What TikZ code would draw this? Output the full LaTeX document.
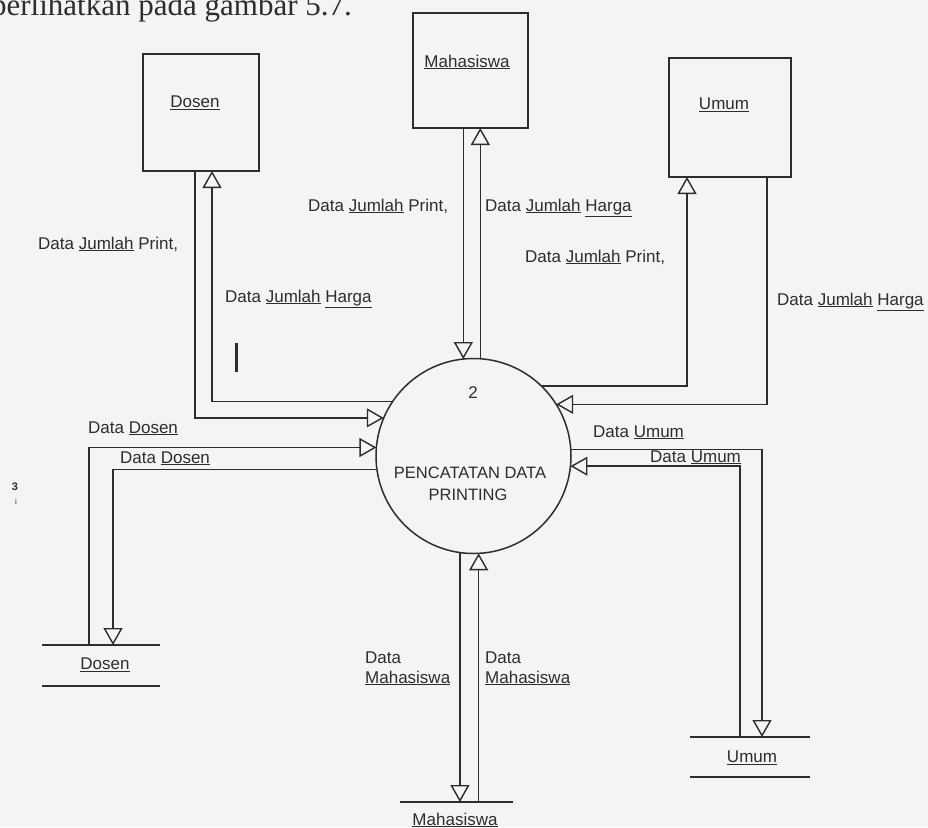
\documentclass[tikz,border=0pt]{standalone}
\usepackage{fontspec}
\setmainfont{Liberation Serif}
\newfontfamily\arial{Liberation Sans}
\usetikzlibrary{arrows.meta}
\definecolor{bg}{RGB}{242,244,245}
\definecolor{ink}{RGB}{45,45,45}
\tikzset{
  ent/.style={draw=ink, line width=1.6pt, inner sep=0pt, outer sep=0pt},
  procstyle/.style={circle, draw=ink, line width=1.5pt, minimum size=195pt, inner sep=0pt, outer sep=0pt},
  flow/.style={draw=ink, line width=1.4pt},
  tip/.style={-{Triangle[open, length=17pt, width=19pt, line width=1.4pt]}},
  lbl/.style={font=\arial\fontsize{17}{20}\selectfont, text=ink, inner sep=0pt},
  storeline/.style={draw=ink, line width=1.6pt},
}
\begin{document}
\begin{tikzpicture}[x=1pt,y=-1pt]
\fill[bg] (0,0) rectangle (928,827);
\useasboundingbox (0,0) rectangle (928,827);

% top text (cut off, as in the scan)
\node[anchor=base east, inner sep=0pt, font=\fontsize{31}{36}\selectfont, text=ink] (toptext) at (352,15) {diperlihatkan pada gambar 5.7.};

% external entities
\node[ent, minimum width=116pt, minimum height=117pt] (dosenE) at (201,112.5) {};
\node[lbl] (dosenEl) at (195,103) {\underline{Dosen}};
\node[ent, minimum width=115pt, minimum height=115pt] (mahaE) at (470.5,70.5) {};
\node[lbl] (mahaEl) at (467,62) {\underline{Mahasiswa}};
\node[ent, minimum width=122pt, minimum height=119pt] (umumE) at (730,117.5) {};
\node[lbl] (umumEl) at (724,105) {\underline{Umum}};

% process
\node[procstyle] (proc) at (473.5,456) {};
\node[lbl] (pnum) at (473,393) {2};
\node[lbl, font=\arial\fontsize{16.5}{20}\selectfont] (pname1) at (470,473) {PENCATATAN DATA};
\node[lbl, font=\arial\fontsize{16.5}{20}\selectfont] (pname2) at (468,495) {PRINTING};

% data stores
\coordinate (dosenTop) at (101,645);
\draw[storeline] (42,645) -- (160,645);
\draw[storeline] (42,686) -- (160,686);
\node[lbl] (dosenS) at (105,665) {\underline{Dosen}};

\coordinate (umumTop) at (750,737);
\draw[storeline] (690,737) -- (810,737);
\draw[storeline] (690,777) -- (810,777);
\node[lbl] (umumS) at (752,758) {\underline{Umum}};

\coordinate (mahaTop) at (456,802);
\draw[storeline] (400,802) -- (513,802);
\node[lbl] (mahaS) at (455,820) {\underline{Mahasiswa}};

% flows Dosen entity
\draw[flow,tip] (dosenE.south -| 195,0) -- (195,0 |- proc.157) -- (proc.157);
\draw[flow,tip] (proc.146) -- (212,0 |- proc.146) -- (212,0 |- dosenE.south);
% flows Mahasiswa entity
\draw[flow,tip] (proc.96 |- mahaE.south) -- (proc.96);
\draw[flow,tip] (proc.86) -- (proc.86 |- mahaE.south);
% flows Umum entity
\draw[flow,tip] (proc.46) -- (687,0 |- proc.46) -- (687,0 |- umumE.south);
\draw[flow,tip] (umumE.south -| 767,0) -- (767,0 |- proc.32) -- (proc.32);
% flows Dosen store
\draw[flow,tip] (dosenTop -| 89,0) -- (89,0 |- proc.175) -- (proc.175);
\draw[flow,tip] (proc.188) -- (113,0 |- proc.188) -- (113,0 |- dosenTop);
% flows Umum store
\draw[flow,tip] (proc.4) -- (762,0 |- proc.4) -- (762,0 |- umumTop);
\draw[flow,tip] (umumTop -| 740,0) -- (740,0 |- proc.354) -- (proc.354);
% flows Mahasiswa store
\draw[flow,tip] (proc.262) -- (proc.262 |- mahaTop);
\draw[flow,tip] (proc.273 |- mahaTop) -- (proc.273);

% labels
\node[lbl, anchor=base west] (l1) at (38,249) {Data \underline{Jumlah} Print,};
\node[lbl, anchor=base west] (l2) at (225,302) {Data \underline{Jumlah} \underline{Harga}};
\node[lbl, anchor=base west] (l3) at (308,211) {Data \underline{Jumlah} Print,};
\node[lbl, anchor=base west] (l4) at (485,211) {Data \underline{Jumlah} \underline{Harga}};
\node[lbl, anchor=base west] (l5) at (525,262) {Data \underline{Jumlah} Print,};
\node[lbl, anchor=base west] (l6) at (777,305) {Data \underline{Jumlah} \underline{Harga}};
\node[lbl, anchor=base west] (l7) at (88,433) {Data \underline{Dosen}};
\node[lbl, anchor=base west] (l8) at (120,463) {Data \underline{Dosen}};
\node[lbl, anchor=base west] (l9) at (593,437) {Data \underline{Umum}};
\node[lbl, anchor=base west] (l10) at (650,462) {Data \underline{Umum}};
\node[lbl, anchor=base west, align=left] (l11) at (365,683) {Data\\\underline{Mahasiswa}};
\node[lbl, anchor=base west, align=left] (l12) at (485,683) {Data\\\underline{Mahasiswa}};

% stray scan marks
\draw[ink, line width=3pt] (236,343) -- (236,372);
\node[lbl, font=\arial\bfseries\fontsize{11}{12}\selectfont] (mk1) at (15,487) {3};
\node[lbl, font=\arial\fontsize{8}{9}\selectfont] (mk2) at (16,502) {i};
\end{tikzpicture}
\end{document}
